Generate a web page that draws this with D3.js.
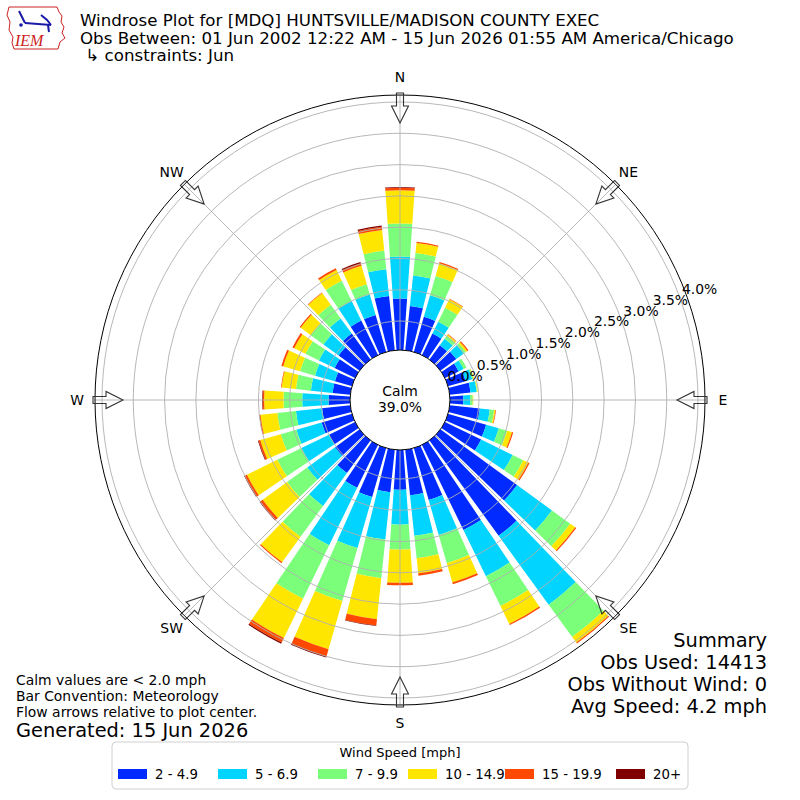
<!DOCTYPE html>
<html>
<head>
<meta charset="utf-8">
<script src="https://cdn.jsdelivr.net/npm/d3@7"></script>
<style>
  body { margin: 0; background: #fff; }
  text { font-family: "DejaVu Sans", sans-serif; fill: #000; }
</style>
</head>
<body>
<svg id="chart" width="800" height="800"></svg>
<script>
/* ------------------ data ------------------ */

const directions = [0, 10, 20, 30, 40, 50, 60, 70, 80, 90, 100, 110,
  120, 130, 140, 150, 160, 170, 180, 190, 200, 210, 220, 230,
  240, 250, 260, 270, 280, 290, 300, 310, 320, 330, 340, 350];

const speedBins = ["2 - 4.9", "5 - 6.9", "7 - 9.9", "10 - 14.9", "15 - 19.9", "20+"];

// percent of obs per direction, one array per speed bin
const bin2to5 = [0.86, 0.75, 0.62, 0.42, 0.32, 0.35, 0.28, 0.33, 0.37, 0.25, 0.52, 0.67,
  0.68, 1.55, 1.92, 1.55, 0.90, 0.77, 0.67, 0.72, 0.85, 0.80, 0.68, 0.52,
  0.50, 0.54, 0.49, 0.38, 0.32, 0.32, 0.40, 0.45, 0.55, 0.65, 0.65, 0.91];
const bin5to7 = [0.67, 0.49, 0.36, 0.21, 0.13, 0.15, 0.09, 0.11, 0.10, 0.11, 0.16, 0.21,
  0.56, 0.69, 1.36, 0.82, 0.58, 0.65, 0.56, 0.76, 0.85, 1.02, 0.65, 0.55,
  0.49, 0.42, 0.42, 0.42, 0.35, 0.33, 0.28, 0.30, 0.30, 0.35, 0.34, 0.43];
const bin7to10 = [0.53, 0.36, 0.32, 0.25, 0.06, 0.04, 0.05, 0.02, 0.01, 0.04, 0.07, 0.14,
  0.19, 0.36, 0.64, 0.53, 0.47, 0.36, 0.40, 0.62, 0.88, 0.95, 0.61, 0.40,
  0.43, 0.26, 0.30, 0.30, 0.24, 0.25, 0.24, 0.25, 0.27, 0.36, 0.17, 0.30];
const bin10to15 = [0.53, 0.16, 0.21, 0.15, 0.02, 0.03, 0.00, 0.01, 0.01, 0.01, 0.02, 0.08,
  0.09, 0.10, 0.11, 0.32, 0.32, 0.24, 0.53, 0.66, 0.80, 0.70, 0.50, 0.48,
  0.54, 0.34, 0.27, 0.31, 0.23, 0.28, 0.20, 0.20, 0.23, 0.19, 0.31, 0.33];
const bin15to20 = [0.04, 0.02, 0.02, 0.01, 0.01, 0.02, 0.00, 0.00, 0.00, 0.00, 0.01, 0.02,
  0.02, 0.02, 0.02, 0.02, 0.03, 0.04, 0.04, 0.10, 0.12, 0.08, 0.02, 0.05,
  0.04, 0.03, 0.02, 0.02, 0.01, 0.03, 0.03, 0.02, 0.01, 0.03, 0.04, 0.05];
const bin20plus = [0.01, 0.00, 0.00, 0.00, 0.00, 0.00, 0.00, 0.00, 0.00, 0.00, 0.00, 0.00,
  0.00, 0.00, 0.00, 0.00, 0.00, 0.00, 0.00, 0.01, 0.02, 0.02, 0.00, 0.01,
  0.01, 0.01, 0.00, 0.01, 0.00, 0.00, 0.00, 0.00, 0.00, 0.00, 0.02, 0.02];

const radialTicks = [0.0, 0.5, 1.0, 1.5, 2.0, 2.5, 3.0, 3.5, 4.0];
const compassLabels = ["N", "NE", "E", "SE", "S", "SW", "W", "NW"];
const compassAngles = [0, 45, 90, 135, 180, 225, 270, 315];
const calmPct = 39.0;

const titleLines = [
  "Windrose Plot for [MDQ] HUNTSVILLE/MADISON COUNTY EXEC",
  "Obs Between: 01 Jun 2002 12:22 AM - 15 Jun 2026 01:55 AM America/Chicago",
  " \u21b3 constraints: Jun"
];
const noteLines = [
  "Calm values are < 2.0 mph",
  "Bar Convention: Meteorology",
  "Flow arrows relative to plot center."
];
const generated = "Generated: 15 Jun 2026";
const summaryLines = ["Summary", "Obs Used: 14413", "Obs Without Wind: 0", "Avg Speed: 4.2 mph"];

/* ------------------ constants ------------------ */

const CX = 400, CY = 400;
const R_OUT = 305;
const CALM_R = 50;
const BAR_DEG = 8;
const COLORS = ["#002aff", "#00d4ff", "#7bff7b", "#ffe600", "#ff4800", "#800000"];
const GRID = "#b0b0b0";

const rad = d => d * Math.PI / 180;

/* ------------------ build ------------------ */

const bins = [bin2to5, bin5to7, bin7to10, bin10to15, bin15to20, bin20plus];
const rows = directions.map((dir, i) => {
  const row = { dir };
  speedBins.forEach((k, j) => { row[k] = bins[j][i]; });
  return row;
});
const series = d3.stack().keys(speedBins)(rows);

const r = d3.scaleLinear().domain([0, 4]).range([47.7, 298]);

const svg = d3.select("#chart");
const rose = svg.append("g").attr("transform", `translate(${CX},${CY})`);

/* ---- bars ---- */

const arc = d3.arc()
  .innerRadius(d => r(d[0]))
  .outerRadius(d => r(d[1]))
  .startAngle(d => rad(d.data.dir - BAR_DEG / 2))
  .endAngle(d => rad(d.data.dir + BAR_DEG / 2));

rose.append("g").selectAll("g")
  .data(series)
  .join("g")
  .attr("fill", (d, i) => COLORS[i])
  .selectAll("path")
  .data(d => d.filter(s => s[1] - s[0] > 0))
  .join("path")
  .attr("d", arc);

/* ---- grid ---- */

rose.append("g").selectAll("circle")
  .data(radialTicks.filter(t => t > 0))
  .join("circle")
  .attr("r", d => r(d))
  .attr("fill", "none")
  .attr("stroke", GRID)
  .attr("stroke-width", 0.9);

rose.append("g").selectAll("line")
  .data(compassAngles)
  .join("line")
  .attr("x1", 0).attr("y1", 0)
  .attr("x2", d => R_OUT * Math.sin(rad(d)))
  .attr("y2", d => -R_OUT * Math.cos(rad(d)))
  .attr("stroke", GRID)
  .attr("stroke-width", 0.9);

rose.append("circle")
  .attr("r", R_OUT)
  .attr("fill", "none")
  .attr("stroke", "#000")
  .attr("stroke-width", 1);

/* ---- direction arrows ---- */

const arrowPts = [[-3.5, -307], [3.5, -307], [3.5, -294], [8.5, -294], [0, -277], [-8.5, -294], [-3.5, -294]];

rose.append("g").selectAll("polygon")
  .data(compassAngles)
  .join("polygon")
  .attr("points", arrowPts.map(p => p.join(",")).join(" "))
  .attr("transform", d => `rotate(${d})`)
  .attr("fill", "none")
  .attr("stroke", "#333")
  .attr("stroke-width", 1.1);

rose.append("g").selectAll("text")
  .data(compassLabels)
  .join("text")
  .attr("x", (d, i) => 323 * Math.sin(rad(compassAngles[i])))
  .attr("y", (d, i) => -323 * Math.cos(rad(compassAngles[i])))
  .attr("text-anchor", "middle")
  .attr("dominant-baseline", "central")
  .style("font-size", "13.9px")
  .text(d => d);

/* ---- calm ---- */

rose.append("circle")
  .attr("r", CALM_R)
  .attr("fill", "#fff")
  .attr("stroke", "#000")
  .attr("stroke-width", 1);

rose.append("text")
  .attr("y", -4)
  .attr("text-anchor", "middle")
  .style("font-size", "13.9px")
  .text("Calm");

rose.append("text")
  .attr("y", 12)
  .attr("text-anchor", "middle")
  .style("font-size", "13.9px")
  .text(d3.format(".1f")(calmPct) + "%");

/* ---- radial labels ---- */

const LABEL_ANG = rad(69.5);
rose.append("g").selectAll("text")
  .data(radialTicks)
  .join("text")
  .attr("x", d => (r(d) + 3) * Math.sin(LABEL_ANG))
  .attr("y", d => -(r(d) + 3) * Math.cos(LABEL_ANG) - 1)
  .style("font-size", "13.9px")
  .text(d => d3.format(".1f")(d) + "%");

/* ------------------ titles & notes ------------------ */

svg.append("g").selectAll("text")
  .data(titleLines)
  .join("text")
  .attr("x", 80)
  .attr("y", (d, i) => 26 + i * 17.5)
  .attr("xml:space", "preserve")
  .style("white-space", "pre")
  .style("font-size", "16.67px")
  .text(d => d);

svg.append("g").selectAll("text")
  .data(noteLines)
  .join("text")
  .attr("x", 16)
  .attr("y", (d, i) => 685 + i * 16)
  .style("font-size", "13.9px")
  .text(d => d);

svg.append("text")
  .attr("x", 16)
  .attr("y", 737)
  .style("font-size", "19.4px")
  .text(generated);

svg.append("g").selectAll("text")
  .data(summaryLines)
  .join("text")
  .attr("x", 767)
  .attr("y", (d, i) => 647 + i * 22)
  .attr("text-anchor", "end")
  .style("font-size", "19.4px")
  .text(d => d);

/* ------------------ legend ------------------ */

const legendX = [118, 218, 318, 408, 505, 616];
const legend = svg.append("g");
legend.append("rect")
  .attr("x", 112).attr("y", 742)
  .attr("width", 576).attr("height", 47)
  .attr("rx", 4)
  .attr("fill", "#fff")
  .attr("stroke", "#d0d0d0");
legend.append("text")
  .attr("x", 400).attr("y", 757)
  .attr("text-anchor", "middle")
  .style("font-size", "13px")
  .text("Wind Speed [mph]");
const item = legend.selectAll("g.item")
  .data(speedBins)
  .join("g")
  .attr("class", "item")
  .attr("transform", (d, i) => `translate(${legendX[i]},769)`);
item.append("rect")
  .attr("width", 29).attr("height", 10)
  .attr("fill", (d, i) => COLORS[i]);
item.append("text")
  .attr("x", 37).attr("y", 10)
  .style("font-size", "13.3px")
  .text(d => d);

/* ------------------ logo ------------------ */

const logo = svg.append("g");
logo.append("path")
  .attr("d", "M9,7 L57,7 L59,12 L62,16 L61,22 L64,27 L62,33 L65,38 L60,42 L58,49 L14,49 L12,43 L13,37 L9,30 L10,22 L7,15 Z")
  .attr("fill", "none")
  .attr("stroke", "#cc2222")
  .attr("stroke-width", 1);
logo.append("line")
  .attr("x1", 25).attr("y1", 23).attr("x2", 51).attr("y2", 25)
  .attr("stroke", "#1a1aa8").attr("stroke-width", 2);
logo.append("path")
  .attr("d", "M19,11 L22,17 L25,23 M41,15 L47,20 L51,25 M48,25 L49,32")
  .attr("fill", "none").attr("stroke", "#1a1aa8").attr("stroke-width", 2);
logo.append("circle").attr("cx", 21).attr("cy", 25).attr("r", 1.8).attr("fill", "#1a1aa8");
logo.append("text")
  .attr("x", 15).attr("y", 46)
  .style("font-family", "'Liberation Serif', serif")
  .style("font-style", "italic")
  .style("font-size", "16px")
  .style("fill", "#cc2222")
  .text("IEM");
</script>
</body>
</html>
